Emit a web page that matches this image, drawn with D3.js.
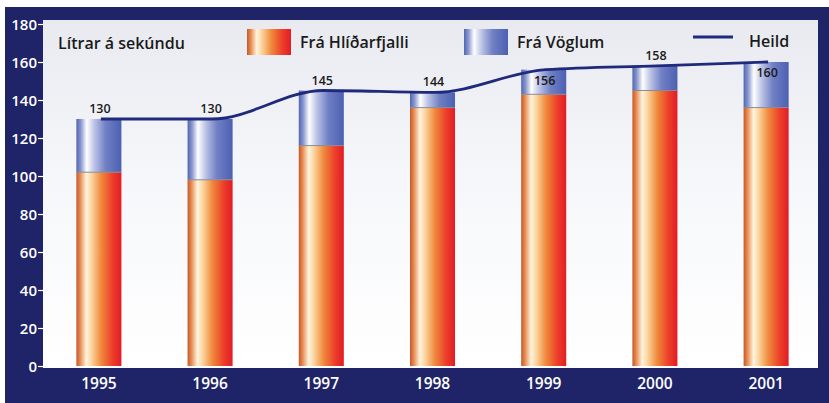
<!DOCTYPE html>
<html>
<head>
<meta charset="utf-8">
<script src="https://cdn.jsdelivr.net/npm/d3@7"></script>
<style>
  body { margin: 0; background: #fff; }
  svg text { font-family: "Open Sans", "Noto Sans", sans-serif; }
</style>
</head>
<body>
<div id="wrapper"></div>
<script>
const years = ["1995", "1996", "1997", "1998", "1999", "2000", "2001"];
const fraHlidarfjalli = [102, 98, 116, 136, 143, 145, 136];
const heild = [130, 130, 145, 144, 156, 158, 160];
const yTicks = [0, 20, 40, 60, 80, 100, 120, 140, 160, 180];
const labelsInside = ["1999", "2001"];

const unitLabel = "Lítrar á sekúndu";
const seriesNames = ["Frá Hlíðarfjalli", "Frá Vöglum", "Heild"];

let dimensions = {
  width: 829,
  height: 403,
  margin: { top: 20, right: 11, bottom: 36, left: 43 },
};
dimensions.boundedWidth = dimensions.width - dimensions.margin.left - dimensions.margin.right;
dimensions.boundedHeight = dimensions.height - dimensions.margin.top - dimensions.margin.bottom;

const svg = d3.select("#wrapper").append("svg")
  .attr("width", dimensions.width)
  .attr("height", dimensions.height);

const defs = svg.append("defs");

// bar gradients, shaded like a cylinder
const orange = defs.append("linearGradient").attr("id", "orange");
[[0, "#c4582c"], [0.08, "#e6884c"], [0.22, "#fff4de"], [0.34, "#fbd39c"], [0.55, "#f08a3c"], [0.8, "#ec3f2a"], [1, "#e31b26"]]
  .forEach(s => orange.append("stop").attr("offset", s[0]).attr("stop-color", s[1]));
const blue = defs.append("linearGradient").attr("id", "blue");
[[0, "#5165b0"], [0.1, "#8a98d0"], [0.23, "#ffffff"], [0.4, "#bcc3e6"], [0.65, "#7080c4"], [1, "#4c60b2"]]
  .forEach(s => blue.append("stop").attr("offset", s[0]).attr("stop-color", s[1]));
const panel = defs.append("linearGradient").attr("id", "panel")
  .attr("x1", 0).attr("y1", 0).attr("x2", 0).attr("y2", 1);
panel.append("stop").attr("offset", 0).attr("stop-color", "#e8eaf0");
panel.append("stop").attr("offset", 0.45).attr("stop-color", "#f6f7fa");
panel.append("stop").attr("offset", 1).attr("stop-color", "#ffffff");

// navy frame
svg.append("rect")
  .attr("x", 5).attr("y", 7)
  .attr("width", dimensions.width - 5).attr("height", dimensions.height - 7)
  .attr("fill", "#1f2468");

const bounds = svg.append("g")
  .attr("transform", `translate(${dimensions.margin.left},${dimensions.margin.top})`);

bounds.append("rect")
  .attr("width", dimensions.boundedWidth)
  .attr("height", dimensions.boundedHeight + 1)
  .attr("fill", "url(#panel)");

const xScale = d3.scaleBand()
  .domain(years)
  .range([0, dimensions.boundedWidth + 4])
  .paddingInner(0.595)
  .paddingOuter(0.3);

const yScale = d3.scaleLinear()
  .domain([0, 180])
  .range([dimensions.boundedHeight - 1, 4]);

const rows = years.map((year, i) => ({
  year,
  low: fraHlidarfjalli[i],
  total: heild[i],
}));

// Frá Hlíðarfjalli (bottom)
bounds.selectAll(".low").data(rows).join("rect")
  .attr("x", d => xScale(d.year))
  .attr("width", xScale.bandwidth())
  .attr("y", d => yScale(d.low))
  .attr("height", d => yScale(0) - yScale(d.low))
  .attr("fill", "url(#orange)");

// Frá Vöglum (top)
bounds.selectAll(".high").data(rows).join("rect")
  .attr("x", d => xScale(d.year))
  .attr("width", xScale.bandwidth())
  .attr("y", d => yScale(d.total))
  .attr("height", d => yScale(d.low) - yScale(d.total))
  .attr("fill", "url(#blue)");

bounds.selectAll(".seam").data(rows).join("line")
  .attr("x1", d => xScale(d.year))
  .attr("x2", d => xScale(d.year) + xScale.bandwidth())
  .attr("y1", d => yScale(d.low))
  .attr("y2", d => yScale(d.low))
  .attr("stroke", "#8a8a96")
  .attr("stroke-width", 1);

// Heild line
const lineGenerator = d3.line()
  .x(d => xScale(d.year) + xScale.bandwidth() / 2 + 2)
  .y(d => yScale(d.total))
  .curve(d3.curveMonotoneX);

bounds.append("path")
  .attr("d", lineGenerator(rows))
  .attr("fill", "none")
  .attr("stroke", "#1f2a7c")
  .attr("stroke-width", 2.8);

// value labels
bounds.selectAll(".val").data(rows).join("text")
  .attr("x", d => xScale(d.year) + xScale.bandwidth() / 2 + 1)
  .attr("y", d => labelsInside.includes(d.year) ? yScale(d.total) + 15 : yScale(d.total) - 6)
  .attr("text-anchor", "middle")
  .attr("font-size", 12.5)
  .attr("font-weight", 600)
  .attr("fill", "#1a1a1a")
  .text(d => d.total);

// axes
const yAxis = bounds.append("g")
  .call(d3.axisLeft(yScale).tickValues(yTicks).tickSize(5).tickPadding(1));
yAxis.select(".domain").remove();
yAxis.selectAll("line").attr("stroke", "#fff").attr("stroke-width", 1.2);
yAxis.selectAll("text")
  .attr("fill", "#fff")
  .attr("font-size", 15)
  .attr("font-weight", 600)
  .attr("font-family", "'Open Sans', sans-serif")
  .attr("dy", "0.34em");

const xAxis = bounds.append("g")
  .attr("transform", `translate(0,${dimensions.boundedHeight})`)
  .call(d3.axisBottom(xScale).tickSize(0).tickPadding(9));
xAxis.select(".domain").remove();
xAxis.selectAll("text")
  .attr("fill", "#fff")
  .attr("font-size", 15.5)
  .attr("font-weight", 600)
  .attr("font-family", "'Open Sans', sans-serif")
  .attr("dy", "0.85em");

// legend
const legend = svg.append("g");
legend.append("text")
  .attr("x", 58).attr("y", 49)
  .attr("font-size", 16).attr("font-weight", 600).attr("fill", "#1a1a1a")
  .text(unitLabel);

legend.append("rect").attr("x", 247).attr("y", 29).attr("width", 44).attr("height", 26).attr("fill", "url(#orange)");
legend.append("text").attr("x", 300).attr("y", 48)
  .attr("font-size", 16).attr("font-weight", 600).attr("fill", "#1a1a1a")
  .text(seriesNames[0]);

legend.append("rect").attr("x", 464).attr("y", 29).attr("width", 44).attr("height", 26).attr("fill", "url(#blue)");
legend.append("text").attr("x", 517).attr("y", 48)
  .attr("font-size", 16).attr("font-weight", 600).attr("fill", "#1a1a1a")
  .text(seriesNames[1]);

legend.append("line").attr("x1", 693).attr("x2", 733).attr("y1", 37).attr("y2", 37)
  .attr("stroke", "#1f2a7c").attr("stroke-width", 2.8);
legend.append("text").attr("x", 749).attr("y", 47)
  .attr("font-size", 16).attr("font-weight", 600).attr("fill", "#1a1a1a")
  .text(seriesNames[2]);
</script>
</body>
</html>
